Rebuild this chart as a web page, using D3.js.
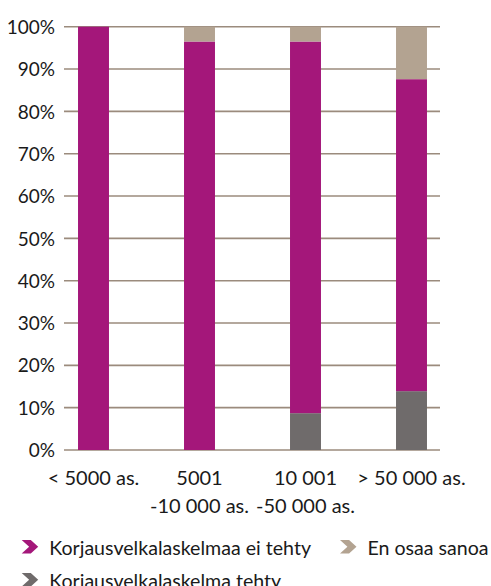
<!DOCTYPE html>
<html><head><meta charset="utf-8">
<script src="https://cdn.jsdelivr.net/npm/d3@7"></script>
<style>body{margin:0;background:#fff}svg{display:block}text{font-family:Lato,"Open Sans",sans-serif;fill:#1a1a1a}</style>
</head><body>
<svg id="c" width="491" height="586"></svg>
<script>
const categories = [["< 5000 as."], ["5001", "-10 000 as."], ["10 001", "-50 000 as."], ["> 50 000 as."]];
const tehty = [0, 0, 8.7, 13.9];
const eiTehty = [100, 96.5, 87.8, 73.7];
const enOsaa = [0, 3.5, 3.5, 12.4];
const yTicks = [0,10,20,30,40,50,60,70,80,90,100];
const seriesNames = ["Korjausvelkalaskelma tehty", "Korjausvelkalaskelmaa ei tehty", "En osaa sanoa"];
const colors = ["#6f6b6b", "#a4177a", "#b3a391"];

const svg = d3.select("#c");
const keys = categories.map(c => c.join(" "));
const x = d3.scaleBand().domain(keys).range([40.5, 464.5]).paddingInner(0.708).paddingOuter(0.354);
const y = d3.scaleLinear().domain([0, 100]).range([450, 26.7]);
const gridX0 = 64, gridX1 = 440;

// gridlines
svg.append("g").selectAll("line").data(yTicks).join("line")
  .attr("x1", gridX0).attr("x2", gridX1)
  .attr("y1", d => y(d)).attr("y2", d => y(d))
  .attr("stroke", "#9b8b7d").attr("stroke-width", 1.6);

// y labels
const yAxis = d3.axisLeft(y).tickValues(yTicks).tickFormat(d => d + "%").tickSize(0).tickPadding(0);
const ya = svg.append("g").attr("transform", "translate(55,0)").call(yAxis);
ya.select(".domain").remove();
ya.selectAll("text").attr("font-size", 19).attr("font-family", "Lato, 'Open Sans', sans-serif").attr("fill", "#1a1a1a").attr("dy", "0.35em");

// stacked bars
const rows = keys.map((k, i) => ({key: k, s0: tehty[i], s1: eiTehty[i], s2: enOsaa[i]}));
const stack = d3.stack().keys(["s0", "s1", "s2"])(rows);
svg.append("g").selectAll("g").data(stack).join("g")
  .attr("fill", (d, i) => colors[i])
  .selectAll("rect").data(d => d).join("rect")
  .attr("x", d => x(d.data.key))
  .attr("width", x.bandwidth())
  .attr("y", d => y(d[1]))
  .attr("height", d => y(d[0]) - y(d[1]));

// x labels
const xl = svg.append("g");
categories.forEach((lines, i) => {
  const t = xl.append("text").attr("text-anchor", "middle").attr("font-size", 20)
    .attr("x", x(keys[i]) + x.bandwidth() / 2).attr("y", 485);
  lines.forEach((ln, j) => t.append("tspan").attr("x", x(keys[i]) + x.bandwidth() / 2).attr("dy", j === 0 ? 0 : 28).text(ln));
});

// legend
const chevron = (w, h) => `M0,0 L${w*0.55},0 L${w},${h/2} L${w*0.55},${h} L0,${h} L${w*0.45},${h/2} Z`;
const legendItems = [
  {name: seriesNames[1], color: colors[1], x: 21.7, y: 540},
  {name: seriesNames[2], color: colors[2], x: 340, y: 540},
  {name: seriesNames[0], color: colors[0], x: 21.7, y: 573}
];
const lg = svg.append("g").selectAll("g").data(legendItems).join("g")
  .attr("transform", d => `translate(${d.x},${d.y})`);
lg.append("path").attr("d", chevron(16.5, 13.5)).attr("fill", d => d.color);
lg.append("text").attr("x", 27.5).attr("y", 15).attr("font-size", 19.6).text(d => d.name);
</script>
</body></html>
